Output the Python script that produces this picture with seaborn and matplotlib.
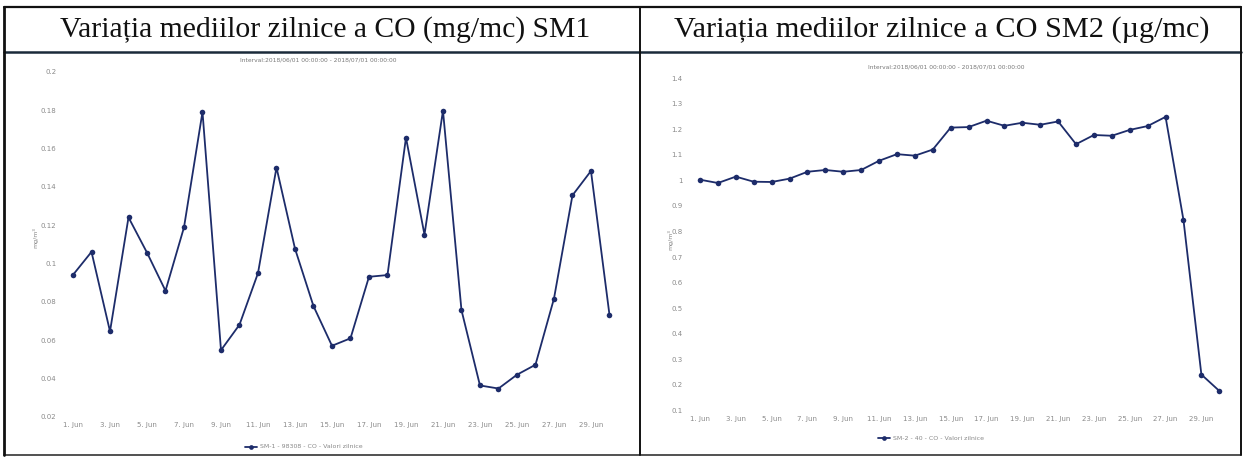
import numpy as np
import pandas as pd
import matplotlib
matplotlib.use("Agg")
import matplotlib.pyplot as plt
from matplotlib.lines import Line2D
import seaborn as sns

# ---------------- data ----------------
days = list(range(1, 31))
sm1_values = [0.094, 0.106, 0.0645, 0.124, 0.1056, 0.0857, 0.1188, 0.179, 0.0547, 0.068,
              0.0949, 0.150, 0.1077, 0.0777, 0.057, 0.0609, 0.093, 0.0939, 0.1656, 0.115,
              0.1797, 0.0756, 0.0363, 0.0347, 0.0419, 0.0471, 0.0816, 0.1355, 0.1482, 0.0732]
sm2_values = [1.003, 0.990, 1.015, 0.995, 0.994, 1.007, 1.034, 1.041, 1.034, 1.041,
              1.077, 1.103, 1.097, 1.121, 1.207, 1.209, 1.234, 1.214, 1.226, 1.218,
              1.231, 1.142, 1.178, 1.175, 1.198, 1.213, 1.249, 0.845, 0.240, 0.176]
x_ticks = list(range(1, 31, 2))
x_tick_labels = [f"{d}. Jun" for d in x_ticks]
sm1_yticks = [0.02, 0.04, 0.06, 0.08, 0.1, 0.12, 0.14, 0.16, 0.18, 0.2]
sm1_ytick_labels = ["0.02", "0.04", "0.06", "0.08", "0.1", "0.12", "0.14", "0.16", "0.18", "0.2"]
sm2_yticks = [0.1, 0.2, 0.3, 0.4, 0.5, 0.6, 0.7, 0.8, 0.9, 1.0, 1.1, 1.2, 1.3, 1.4]
sm2_ytick_labels = ["0.1", "0.2", "0.3", "0.4", "0.5", "0.6", "0.7", "0.8", "0.9", "1",
                    "1.1", "1.2", "1.3", "1.4"]
titles = ["Variația mediilor zilnice a CO (mg/mc) SM1",
          "Variația mediilor zilnice a CO SM2 (µg/mc)"]
subtitle = "Interval:2018/06/01 00:00:00 - 2018/07/01 00:00:00"
legend_labels = ["SM-1 - 98308 - CO - Valori zilnice", "SM-2 - 40 - CO - Valori zilnice"]
y_label = "mg/m³"

df1 = pd.DataFrame({"day": days, "value": sm1_values})
df2 = pd.DataFrame({"day": days, "value": sm2_values})

# ---------------- figure ----------------
sns.set_style("white")
plt.rcParams["font.family"] = ["DejaVu Sans"]
W, H = 1246, 459
fig = plt.figure(figsize=(W / 100, H / 100), dpi=100)
fig.patch.set_facecolor("white")

def rect(l, t, r, b):
    return [l / W, 1 - b / H, (r - l) / W, (b - t) / H]

line_color = "#1d2c6a"
tick_color = "#8a8a8a"

def draw_chart(ax, df, yticks, ylabels, ylim, xlim):
    sns.lineplot(data=df, x="day", y="value", ax=ax, color=line_color,
                 marker="o", markersize=4.0, markeredgewidth=0, linewidth=1.3,
                 legend=False)
    ax.set_xlim(*xlim)
    ax.set_ylim(*ylim)
    ax.set_xticks(x_ticks)
    ax.set_xticklabels(x_tick_labels)
    ax.set_yticks(yticks)
    ax.set_yticklabels(ylabels)
    ax.tick_params(axis="both", length=0, labelsize=5, labelcolor=tick_color, pad=4)
    ax.set_xlabel("")
    ax.set_ylabel("")
    for s in ax.spines.values():
        s.set_visible(False)
    ax.grid(False)

ax1 = fig.add_axes(rect(62, 71.7, 625, 416.7))
draw_chart(ax1, df1, sm1_yticks, sm1_ytick_labels, (0.02, 0.2), (0.405, 30.84))
ax2 = fig.add_axes(rect(688, 78.3, 1232, 410.3))
draw_chart(ax2, df2, sm2_yticks, sm2_ytick_labels, (0.1, 1.4), (0.33, 30.71))

# table borders
def hline(y, x0, x1, lw=1.6, c="#111111"):
    fig.add_artist(Line2D([x0 / W, x1 / W], [1 - y / H, 1 - y / H], color=c, lw=lw))
def vline(x, y0, y1, lw=1.6, c="#111111"):
    fig.add_artist(Line2D([x / W, x / W], [1 - y0 / H, 1 - y1 / H], color=c, lw=lw))

hline(7, 4, 1241)
hline(52, 4, 1241, lw=1.8, c="#1a2a3a")
hline(455, 4, 1241, lw=1.2, c="#333333")
vline(4, 7, 455, lw=2.0)
vline(640, 7, 455, lw=1.4)
vline(1241, 7, 455, lw=1.4)

# titles
fig.text(325 / W, 1 - 30 / H, titles[0], ha="center", va="center",
         fontsize=21.3, family="Liberation Serif", color="#111111")
fig.text(942 / W, 1 - 30 / H, titles[1], ha="center", va="center",
         fontsize=21.8, family="Liberation Serif", color="#111111")

# subtitles
fig.text(318 / W, 1 - 60 / H, subtitle, ha="center", va="center", fontsize=4.3, color="#777777")
fig.text(946 / W, 1 - 67 / H, subtitle, ha="center", va="center", fontsize=4.3, color="#777777")

# y labels
fig.text(35 / W, 1 - 238 / H, y_label, rotation=90, ha="center", va="center", fontsize=4.5, color="#888888")
fig.text(670 / W, 1 - 240 / H, y_label, rotation=90, ha="center", va="center", fontsize=4.5, color="#888888")

# legends
for (xc, yc, lab) in [(312, 447, legend_labels[0]), (945, 438, legend_labels[1])]:
    fig.text((xc - 52) / W, 1 - yc / H, lab, ha="left", va="center", fontsize=4.5, color="#888888")
    fig.add_artist(Line2D([(xc - 67) / W, (xc - 61) / W, (xc - 55) / W],
                          [1 - yc / H] * 3,
                          color=line_color, lw=1.3, marker="o", markersize=3.4,
                          markevery=[1], markeredgewidth=0))

fig.savefig("out.png", dpi=100, facecolor="white")
